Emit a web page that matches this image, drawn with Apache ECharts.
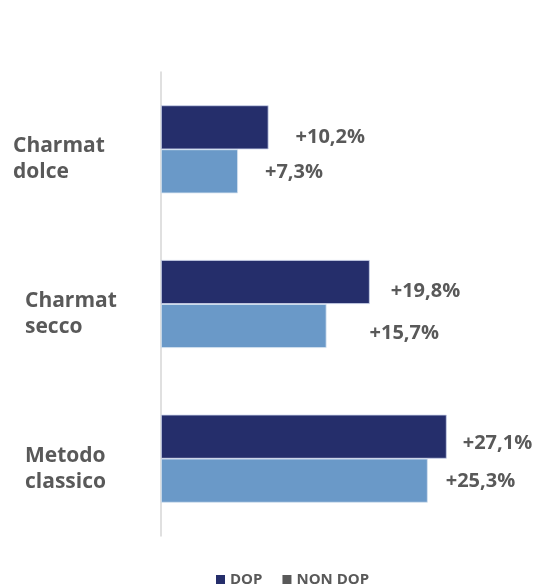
<!DOCTYPE html>
<html>
<head>
<meta charset="utf-8">
<script src="https://cdn.jsdelivr.net/npm/echarts@6/dist/echarts.min.js"></script>
<style>
  html, body { margin: 0; padding: 0; background: #ffffff; }
  #chart { width: 547px; height: 586px; }
</style>
</head>
<body>
<div id="chart"></div>
<script>
// Growth by sparkling-wine production method, DOP vs NON DOP
const categories = ['Charmat\ndolce', 'Charmat\nsecco', 'Metodo\nclassico'];
const seriesNames = ['DOP', 'NON DOP'];
const dopValues = [10.2, 19.8, 27.1];
const nonDopValues = [7.3, 15.7, 25.3];

// Hand-placed label nudges [dx, dy] per bar
const dopLabelNudge = [[27, 10], [21, 9], [16, 7]];
const nonDopLabelNudge = [[27, 1], [43, 7], [18, 1]];

const FONT = '"Open Sans", "DejaVu Sans", sans-serif';
const TEXT = '#595959';
const DARK = '#252e6b';
const LIGHT = '#6a99c8';

function fmt(v) {
  return '+' + v.toFixed(1).replace('.', ',') + '%';
}

function barData(values, nudges) {
  return values.map((v, i) => ({
    value: v,
    label: { offset: nudges[i] }
  }));
}

const chart = echarts.init(document.getElementById('chart'), null, { renderer: 'canvas' });

const labelStyle = {
  show: true,
  position: 'right',
  distance: 0,
  color: TEXT,
  fontFamily: FONT,
  fontWeight: 'bold',
  fontSize: 20,
  formatter: p => fmt(p.value)
};

const catText = { color: TEXT, fontFamily: FONT, fontWeight: 'bold', fontSize: 21, lineHeight: 26 };

chart.setOption({
  animation: false,
  backgroundColor: '#ffffff',
  grid: { left: 161, right: 17, top: 72, bottom: 50, containLabel: false },
  legend: {
    top: 567,
    left: 211,
    itemWidth: 9,
    itemHeight: 9,
    itemGap: 20,
    icon: 'rect',
    textStyle: { color: TEXT, fontFamily: FONT, fontWeight: 'bold', fontSize: 15 },
    data: [
      { name: seriesNames[0], itemStyle: { color: DARK, borderWidth: 0 } },
      { name: seriesNames[1], itemStyle: { color: '#595959', borderWidth: 0 } }
    ]
  },
  xAxis: {
    type: 'value',
    min: 0,
    max: 35,
    show: false
  },
  yAxis: {
    type: 'category',
    inverse: true,
    data: categories,
    axisLine: { show: true, lineStyle: { color: '#d6d6d6', width: 1.5 } },
    axisTick: { show: false },
    axisLabel: {
      margin: 148,
      align: 'left',
      color: TEXT,
      fontFamily: FONT,
      fontWeight: 'bold',
      fontSize: 21,
      lineHeight: 26,
      formatter: (v, i) => i === 0 ? '{a|' + v.replace('\n', '}\n{a|') + '}' : '{b|' + v.replace('\n', '}\n{b|') + '}',
      rich: {
        a: Object.assign({}, catText, { padding: [0, 0, 0, 0] }),
        b: Object.assign({}, catText, { padding: [0, 0, 0, 12] })
      },
      padding: [20, 0, 0, 0]
    },
    splitLine: { show: false }
  },
  series: [
    {
      name: seriesNames[0],
      type: 'bar',
      data: barData(dopValues, dopLabelNudge),
      barWidth: 44,
      barGap: '0%',
      itemStyle: { color: DARK, borderColor: '#c9d2ea', borderWidth: 0.8 },
      label: labelStyle
    },
    {
      name: seriesNames[1],
      type: 'bar',
      data: barData(nonDopValues, nonDopLabelNudge),
      barWidth: 44,
      barGap: '0%',
      itemStyle: { color: LIGHT, borderColor: '#d6e2f0', borderWidth: 0.8 },
      label: labelStyle
    }
  ]
});
</script>
</body>
</html>
